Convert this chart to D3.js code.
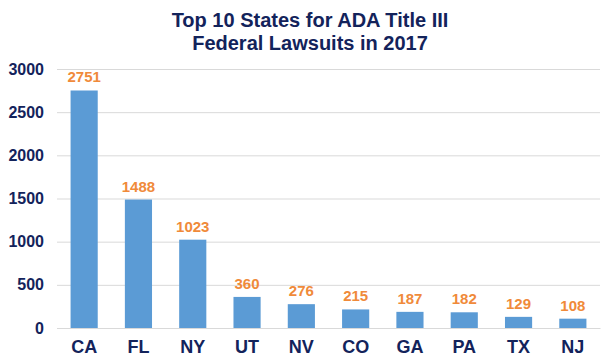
<!DOCTYPE html>
<html><head><meta charset="utf-8">
<script src="https://cdn.jsdelivr.net/npm/d3@7"></script>
<style>body{margin:0;background:#fff}svg{display:block}</style>
</head><body>
<script>
const states = ["CA","FL","NY","UT","NV","CO","GA","PA","TX","NJ"];
const lawsuits = [2751,1488,1023,360,276,215,187,182,129,108];
const yTicks = [0,500,1000,1500,2000,2500,3000];
const titleLines = ["Top 10 States for ADA Title III","Federal Lawsuits in 2017"];

const W=613,H=364;
const FONT="'Liberation Sans', Arial, sans-serif";
const navy="#13235b", barColor="#5b9bd5", labelColor="#f08a3a";
const svg=d3.select("body").append("svg").attr("width",W).attr("height",H)
  .style("font-family",FONT);

const x=d3.scaleBand().domain(states).range([57,600]).paddingInner(0.5).paddingOuter(0.25);
const y=d3.scaleLinear().domain([0,3000]).range([328,69]);

svg.selectAll("text.title").data(titleLines).join("text")
  .attr("x",310).attr("y",(d,i)=>27+i*23).attr("text-anchor","middle")
  .attr("font-size",20).attr("font-weight","bold").attr("fill",navy).text(d=>d);

const yAxis=svg.append("g").attr("transform","translate(57,0)")
  .call(d3.axisLeft(y).tickValues(yTicks).tickFormat(d3.format("d")).tickSize(-543).tickPadding(13));
yAxis.attr("font-family",null);
yAxis.select(".domain").remove();
yAxis.selectAll("line").attr("stroke","#d9d9d9");
yAxis.selectAll("text").attr("font-size",16).attr("font-weight","bold").attr("fill",navy)
  .style("font-family",FONT);

svg.selectAll("rect.bar").data(lawsuits).join("rect")
  .attr("x",(d,i)=>x(states[i])).attr("width",x.bandwidth())
  .attr("y",d=>y(d)).attr("height",d=>y(0)-y(d)).attr("fill",barColor);

svg.selectAll("text.val").data(lawsuits).join("text")
  .attr("x",(d,i)=>x(states[i])+x.bandwidth()/2).attr("y",d=>y(d)-8)
  .attr("text-anchor","middle").attr("font-size",15).attr("font-weight","bold")
  .attr("fill",labelColor).text(d=>d);

const xAxis=svg.append("g").attr("transform","translate(0,328)")
  .call(d3.axisBottom(x).tickSize(0).tickPadding(12));
xAxis.attr("font-family",null);
xAxis.select(".domain").attr("stroke","#d9d9d9");
xAxis.selectAll("text").attr("font-size",18).attr("font-weight","bold").attr("fill",navy)
  .style("font-family",FONT);
</script>
</body></html>
